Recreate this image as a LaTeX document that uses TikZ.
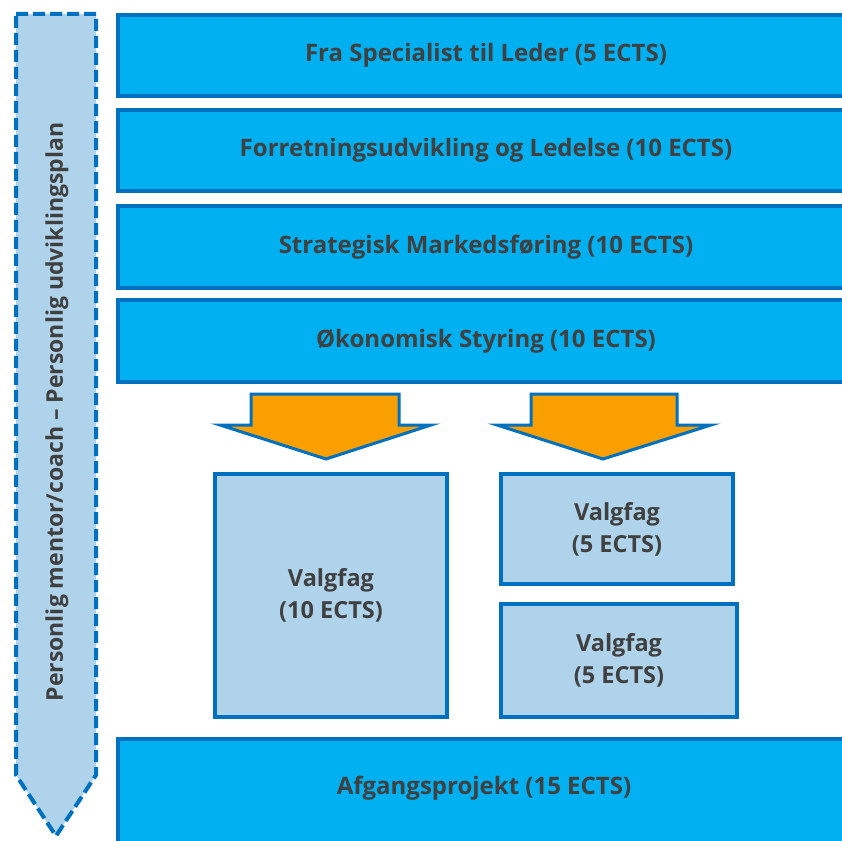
\documentclass[tikz,border=0pt]{standalone}
\usepackage{fontspec}
\setmainfont{Open Sans}
\definecolor{edgeblue}{HTML}{0070C0}
\definecolor{cyanfill}{HTML}{00B0F0}
\definecolor{palefill}{HTML}{AFD3EB}
\definecolor{arroworange}{HTML}{F9A000}
\definecolor{textgrey}{HTML}{404040}
\newcommand{\boxfont}{\fontsize{24}{28}\selectfont\bfseries}
\newcommand{\sidefont}{\fontsize{23}{27}\selectfont\bfseries}
\newcommand{\electivefont}{\fontsize{23.5}{32}\selectfont\bfseries}
\tikzset{
  course/.style={draw=edgeblue, line width=4pt, fill=cyanfill, anchor=north west,
    inner sep=0pt, font=\boxfont, text=textgrey},
  elective/.style={draw=edgeblue, line width=4pt, fill=palefill, anchor=north west,
    inner sep=0pt, align=center, font=\electivefont, text=textgrey},
  label text/.style={font=\boxfont, text=textgrey, inner sep=0pt},
  flowarrow/.style={draw=edgeblue, line width=3pt, fill=arroworange, line join=miter},
  sidearrow/.style={draw=edgeblue, line width=4pt, fill=palefill, dash pattern=on 12pt off 5pt}
}
\begin{document}
\begin{tikzpicture}[x=1pt, y=-1pt]
  \useasboundingbox (0,0) rectangle (842,840);
  \clip (0,0) rectangle (842,840);
  \fill[white] (0,0) rectangle (842,840);

  % side arrow: mentor / development plan
  \draw[sidearrow] (16,14) -- (96,14) -- (96,775) -- (56,836) -- (16,775) -- cycle;
  \node[label text, font=\sidefont, rotate=90] (plan) at (57,412)
    {Personlig mentor/coach -- Personlig udviklingsplan};

  % compulsory courses
  \node[course, minimum width=736pt, minimum height=81pt] (c1) at (116,13)
    {Fra Specialist til Leder (5 ECTS)};
  \node[course, minimum width=736pt, minimum height=81pt] (c2) at (116,108)
    {Forretningsudvikling og Ledelse (10 ECTS)};
  \node[course, minimum width=736pt, minimum height=82pt] (c3) at (116,204)
    {Strategisk Markedsføring (10 ECTS)};
  \node[course, minimum width=736pt, minimum height=82pt] (c4) at (116,298)
    {Økonomisk Styring (10 ECTS)};

  % arrows down to the electives
  \draw[flowarrow] (251,394) -- (399,394) -- (399,425) -- (431,425) -- (326,459)
    -- (220,425) -- (251,425) -- cycle;
  \draw[flowarrow] (531,394) -- (677,394) -- (677,425) -- (711,425) -- (603,459)
    -- (497,425) -- (531,425) -- cycle;

  % electives
  \node[elective, minimum width=232pt, minimum height=243pt] (e1) at (213,472)
    {Valgfag\\(10 ECTS)};
  \node[elective, minimum width=232pt, minimum height=110pt] (e2) at (499,472)
    {Valgfag\\(5 ECTS)};
  \node[elective, minimum width=236pt, minimum height=113pt] (e3) at (499,602)
    {Valgfag\\(5 ECTS)};

  % final project
  \node[course, minimum width=736pt, minimum height=120pt] (c5) at (116,737) {};
  \node[label text] (c5text) at (484,788) {Afgangsprojekt (15 ECTS)};
\end{tikzpicture}
\end{document}
